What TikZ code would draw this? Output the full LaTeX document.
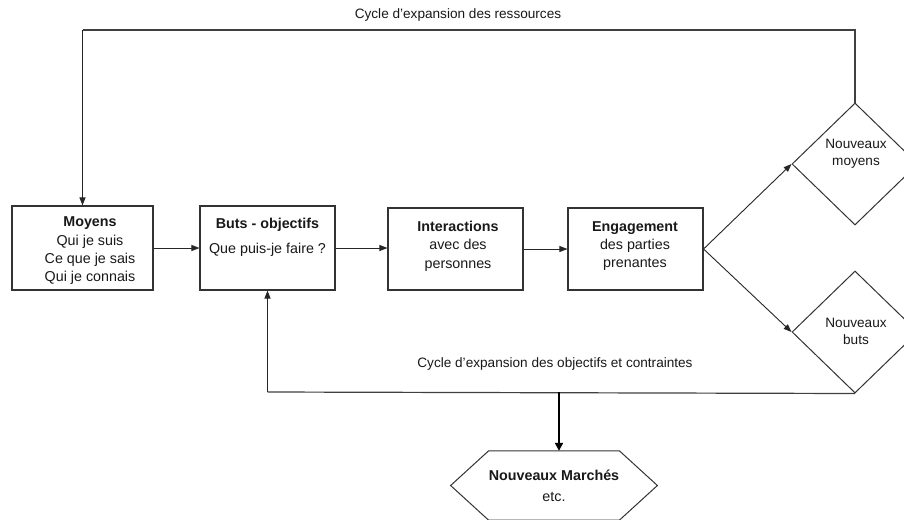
\documentclass[tikz,border=0pt]{standalone}
\usepackage{fontspec}
\setmainfont{Liberation Sans}
\usetikzlibrary{arrows.meta,shapes.geometric}
\begin{document}
\begin{tikzpicture}[x=1pt,y=-1pt,
  box/.style={draw=black!80,line width=1.1pt,inner sep=0pt},
  dia/.style={draw=black!80,line width=1pt,diamond,minimum width=126pt,minimum height=122pt,inner sep=0pt},
  btxt/.style={align=center,font=\fontsize{14.3}{18.3}\selectfont,inner sep=0pt,text=black!90},
  dtxt/.style={align=center,font=\fontsize{13.6}{17}\selectfont,inner sep=0pt,text=black!90},
  lbl/.style={font=\fontsize{13.6}{16}\selectfont,inner sep=0pt,text=black!90},
  arr/.style={draw=black!85,line width=0.9pt,-{Triangle[length=8pt,width=6pt]}},
  loopline/.style={draw=black!75,line width=1.2pt},
  thick arr/.style={draw=black,line width=2.4pt,-{Triangle[length=8pt,width=8pt]}}
]
\useasboundingbox (0,0) rectangle (904,519);
\clip (0,0) rectangle (904,519);
\fill[white] (0,0) rectangle (904,519);

% boxes
\node[box,minimum width=141pt,minimum height=84pt] (moyens) at (82.5,248) {};
\node[box,minimum width=135pt,minimum height=84pt] (buts) at (267.5,248) {};
\node[box,minimum width=135pt,minimum height=82pt] (inter) at (455.5,249) {};
\node[box,minimum width=135pt,minimum height=82pt] (engag) at (635.5,249) {};

\node[btxt] (tmoy) at (90,251) {\textbf{Moyens}\\Qui je suis\\Ce que je sais\\Qui je connais};
\node[btxt] (tbut) at (267.5,237.5) {\textbf{Buts - objectifs}\\[6.5pt]Que puis-je faire ?};
\node[btxt] (tint) at (458,246) {\textbf{Interactions}\\avec des\\personnes};
\node[btxt] (teng) at (635,246) {\textbf{Engagement}\\des parties\\prenantes};

% diamonds
\node[dia] (nmoy) at (855,164) {};
\node[dia] (nbut) at (855,332) {};
\node[dtxt] (tnm) at (856,153.5) {Nouveaux\\moyens};
\node[dtxt] (tnb) at (856,331.5) {Nouveaux\\buts};

% hexagon
\node[btxt,minimum width=112pt,minimum height=69pt] (march) at (554,485.5) {\textbf{Nouveaux Marchés}\\[2.5pt]etc.};
\draw[draw=black!80,line width=1pt] (march.north west) -- (march.north east) -- ([xshift=38pt]march.east) -- (march.south east) -- (march.south west) -- ([xshift=-38pt]march.west) -- cycle;

% labels
\node[lbl] (l1) at (458,15) {Cycle d’expansion des ressources};
\node[lbl] (l2) at (555,364) {Cycle d’expansion des objectifs et contraintes};

% connectors
\draw[arr] (moyens.east) -- (buts.west);
\draw[arr] (buts.east) -- (buts.east -| inter.west);
\draw[arr] (inter.east) -- (engag.west);
\draw[arr] (engag.east) -- (nmoy.west);
\draw[arr] (engag.east) -- (nbut.west);

\coordinate (tl) at (82.5,30);
\draw[loopline] (nmoy.north) -- (nmoy.north |- tl) -- (tl);
\draw[arr] (tl) -- (moyens.north);

\coordinate (bl) at (267.5,392);
\draw[loopline] (nbut.south) -- (bl);
\draw[arr] (bl) -- (buts.south);

\coordinate (split) at (559,392);
\draw[thick arr] (split) -- (split |- march.north);
\end{tikzpicture}
\end{document}
